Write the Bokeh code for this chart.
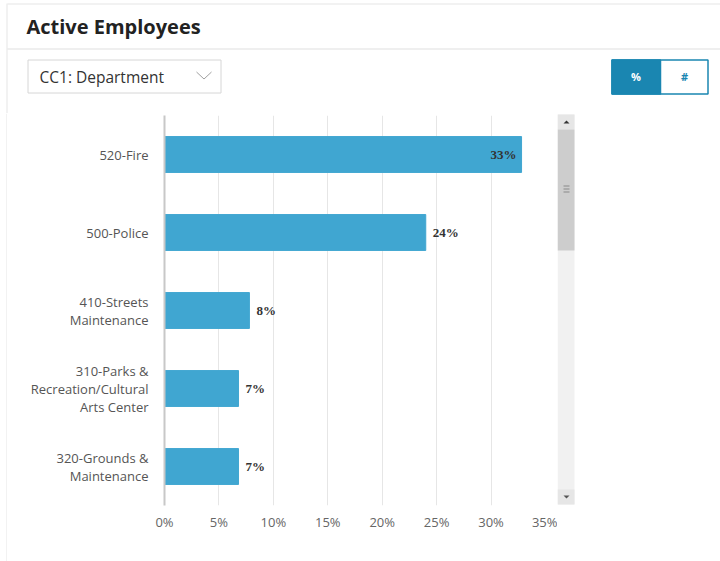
from bokeh.plotting import figure
from bokeh.layouts import column, row
from bokeh.models import (ColumnDataSource, FactorRange, Range1d, FixedTicker,
                          PrintfTickFormatter, LabelSet)
from bokeh.core.properties import value
from bokeh.embed import file_html
from bokeh.resources import INLINE

# ---- data ----
departments = ["520-Fire", "500-Police", "410-Streets\nMaintenance",
               "310-Parks &\nRecreation/Cultural\nArts Center",
               "320-Grounds &\nMaintenance"]
percent = [32.8, 24.0, 7.8, 6.8, 6.8]
percent_labels = ["33%", "24%", "8%", "7%", "7%"]
x_ticks = [0, 5, 10, 15, 20, 25, 30, 35]

FONT = "Open Sans"
TEAL = "#1a86b1"
HEAD_H = 113
BODY_H = 561 - HEAD_H


def deco_fig(w, h, x0, x1, y0, y1):
    """Figure whose frame fills it, in canvas-pixel coordinates (y downwards)."""
    f = figure(width=w, height=h, output_backend="svg", toolbar_location=None,
               x_range=Range1d(x0, x1), y_range=Range1d(y1, y0),
               x_axis_location=None, y_axis_location=None,
               min_border=0, min_border_left=0, min_border_right=0,
               min_border_top=0, min_border_bottom=0, frame_align=False)
    f.outline_line_color = None
    f.grid.visible = False
    f.background_fill_color = "white"
    f.border_fill_color = "white"
    return f


def rect(f, x0, y0, x1, y1, fill=None, line=None, lw=1):
    f.quad(left=[x0], right=[x1], top=[y0], bottom=[y1],
           fill_color=fill if fill else "white", fill_alpha=1 if fill else 0,
           line_color=line if line else None, line_width=lw)


def txt(f, x, y, s, size="12px", color="#333333", style="normal", align="left"):
    f.text(x=[x], y=[y], text=[s], text_font=value(FONT), text_font_size=value(size),
           text_color=color, text_font_style=style, text_align=align,
           text_baseline="middle")


# ---- header ----
head = deco_fig(720, HEAD_H, 0, 720, 0, HEAD_H)
rect(head, 7, 3, 720, 4, fill="#e6e6e6")
rect(head, 6, 3, 7, HEAD_H, fill="#e6e6e6")
rect(head, 7, 48, 720, 49, fill="#e0e0e0")
txt(head, 26, 26, "Active Employees", size="20px", color="#222222", style="bold")
rect(head, 27.5, 59.5, 220.5, 92.5, line="#d6d6d6")
txt(head, 39, 76, "CC1: Department", size="15.5px", color="#333333")
head.line(x=[196, 203.5, 211], y=[71.5, 78.5, 71.5], line_color="#a0a0a0", line_width=1)
rect(head, 611.5, 59.5, 707.5, 93.5, line=TEAL, lw=1.5)
rect(head, 611.5, 59.5, 660, 93.5, fill=TEAL, line=TEAL, lw=1.5)
txt(head, 635.5, 76, "%", size="11px", color="white", style="bold", align="center")
txt(head, 684, 76, "#", size="11px", color=TEAL, style="bold", align="center")

# ---- left card border strip ----
strip = deco_fig(7, BODY_H, 0, 7, HEAD_H, 561)
rect(strip, 6, HEAD_H, 7, 561, fill="#e6e6e6")

# ---- chart ----
FL, FR, FT, FB = 164, 545, 115, 505   # frame edges (canvas px)
CX0, CX1 = 7, 557                     # chart figure horizontal extent
p = figure(width=CX1 - CX0, height=BODY_H, output_backend="svg", toolbar_location=None,
           y_range=FactorRange(factors=list(reversed(departments)),
                               range_padding=0),
           x_range=Range1d(0, 35),
           min_border_left=FL - CX0, min_border_right=CX1 - FR,
           min_border_top=FT - HEAD_H, min_border_bottom=561 - FB,
           frame_align=False)
p.outline_line_color = None
p.background_fill_color = "white"
p.border_fill_color = "white"

src = ColumnDataSource(dict(dept=departments, pct=percent, lbl=percent_labels))
p.hbar(y="dept", right="pct", left=0, height=0.46, source=src,
       fill_color="#40a6d1", line_color="#40a6d1")

inside = [i for i, v in enumerate(percent) if v >= 30]
outside = [i for i, v in enumerate(percent) if v < 30]
for idx, align, off in ((inside, "right", -5), (outside, "left", 7)):
    s = ColumnDataSource(dict(dept=[departments[i] for i in idx],
                              pct=[percent[i] for i in idx],
                              lbl=[percent_labels[i] for i in idx]))
    p.add_layout(LabelSet(x="pct", y="dept", text="lbl", source=s,
                          text_align=align, text_baseline="middle", x_offset=off,
                          text_font=FONT, text_font_size="13px",
                          text_font_style="bold", text_color="#333333"))

p.xaxis.ticker = FixedTicker(ticks=x_ticks)
p.xaxis.formatter = PrintfTickFormatter(format="%d%%")
p.xaxis.axis_line_color = None
p.xaxis.major_tick_line_color = None
p.xaxis.minor_tick_line_color = None
p.xaxis.major_tick_out = 0
p.xaxis.major_tick_in = 0
p.xaxis.major_label_standoff = 7
p.xaxis.major_label_text_font = FONT
p.xaxis.major_label_text_font_size = "13px"
p.xaxis.major_label_text_color = "#666666"

p.yaxis.axis_line_color = "#c8c8c8"
p.yaxis.axis_line_width = 2
p.yaxis.major_tick_line_color = None
p.yaxis.minor_tick_line_color = None
p.yaxis.major_tick_out = 0
p.yaxis.major_tick_in = 0
p.yaxis.major_label_standoff = 16
p.yaxis.major_label_text_font = FONT
p.yaxis.major_label_text_font_size = "13px"
p.yaxis.major_label_text_color = "#555555"
p.yaxis.major_label_text_line_height = 1.0

p.ygrid.grid_line_color = None
p.xgrid.grid_line_color = "#e6e6e6"
p.xgrid.grid_line_width = 1

# ---- scrollbar ----
sb = deco_fig(720 - CX1, BODY_H, CX1, 720, HEAD_H, 561)
rect(sb, 557, 114, 574, 504, fill="#f1f1f1")
rect(sb, 557, 114, 574, 129, fill="#e6e6e6")
rect(sb, 557, 489, 574, 504, fill="#e6e6e6")
rect(sb, 557, 129, 574, 250, fill="#cdcdcd")
sb.patch(x=[563, 566, 569], y=[123, 120, 123], fill_color="#333333", line_color=None)
sb.patch(x=[563, 566, 569], y=[495, 498, 495], fill_color="#555555", line_color=None)
for gy in (185, 188, 191):
    rect(sb, 563, gy, 569, gy + 1, fill="#8a8a8a")

layout = column(head, row(strip, p, sb, spacing=0), spacing=0)
open("out.html", "w").write(file_html(layout, INLINE))
